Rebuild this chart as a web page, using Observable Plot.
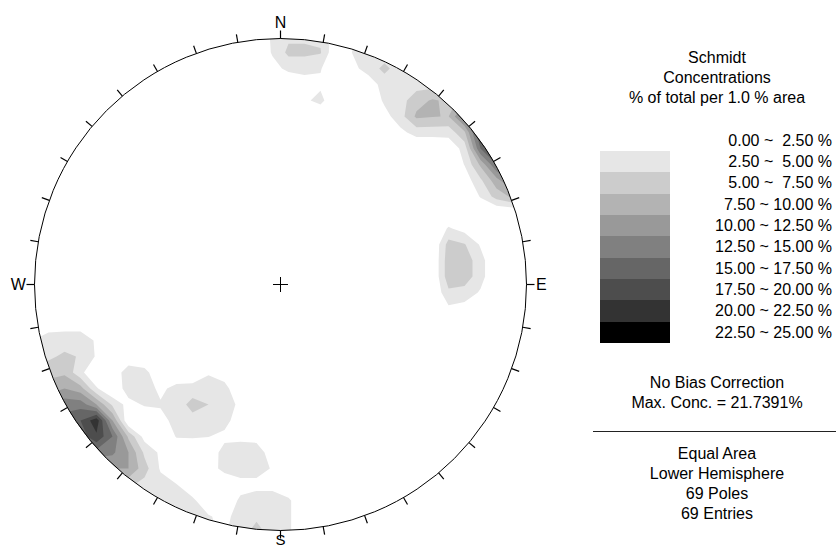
<!DOCTYPE html>
<html><head><meta charset="utf-8">
<script src="https://cdn.jsdelivr.net/npm/d3@7"></script>
<script src="https://cdn.jsdelivr.net/npm/@observablehq/plot@0.6"></script>
<style>
body{margin:0;background:#fff;font-family:"Liberation Sans",Arial,sans-serif;}
#wrap{position:relative;width:836px;height:548px;overflow:hidden;background:#fff;}
.t{position:absolute;font-size:16px;line-height:20px;white-space:pre;color:#000;}
.c{left:598px;width:238px;text-align:center;}
.r{right:4px;text-align:right;}
.sw{position:absolute;left:600px;width:70px;}
</style></head><body><div id="wrap"></div>
<script>
// Concentration grid (% of total per 1% area), 32 x 32 samples, rows top->bottom, cols left->right
const conc = [
[0,0,0,0,0,0,0,0,0,0,0,0,0,0,0,3,4.5,4.5,4.5,1,2,3,3,3,0,0,0,0,0,0,0,0],
[0,0,0,0,0,0,0,0,0,0,0,0,0,0,0,2.8,5.6,5.6,5.2,0,2.6,4,4,4,3,0,0,0,0,0,0,0],
[0,0,0,0,0,0,0,0,0,0,0,0,0,0,0,1.5,3.2,3.2,2.7,0,1.5,4,5.5,4,4,4,0,0,0,0,0,0],
[0,0,0,0,0,0,0,0,0,0,0,0,0,0,0,0,0,1.5,2,0,0,0.5,4,4,4,4,5,0,0,0,0,0],
[0,0,0,0,0,0,0,0,0,0,0,0,0,0,0,0,0,2,3.3,0,0,0,3,4,6.5,7.8,7,8,0,0,0,0],
[0,0,0,0,0,0,0,0,0,0,0,0,0,0,0,0,0,0,0,0,0,0,1.5,4,8,7.6,7.4,14,14,0,0,0],
[0,0,0,0,0,0,0,0,0,0,0,0,0,0,0,0,0,0,0,0,0,0,0,1.8,3.5,3.5,3.5,7,18,18,0,0],
[0,0,0,0,0,0,0,0,0,0,0,0,0,0,0,0,0,0,0,0,0,0,0,0,0,0,0.5,3.5,15,20,20,0],
[0,0,0,0,0,0,0,0,0,0,0,0,0,0,0,0,0,0,0,0,0,0,0,0,0,0,0,2.6,8,15,15,0],
[0,0,0,0,0,0,0,0,0,0,0,0,0,0,0,0,0,0,0,0,0,0,0,0,0,0,0,1,4.5,9,13,13],
[0,0,0,0,0,0,0,0,0,0,0,0,0,0,0,0,0,0,0,0,0,0,0,0,0,0,0,0,2.7,6,8,8],
[0,0,0,0,0,0,0,0,0,0,0,0,0,0,0,0,0,0,0,0,0,0,0,0,0,0,0,0,0,0,0,0],
[0,0,0,0,0,0,0,0,0,0,0,0,0,0,0,0,0,0,0,0,0,0,0,0,0,0,2.8,1.5,0,0,0,0],
[0,0,0,0,0,0,0,0,0,0,0,0,0,0,0,0,0,0,0,0,0,0,0,0,0,0,6,5.2,2.2,0,0,0],
[0,0,0,0,0,0,0,0,0,0,0,0,0,0,0,0,0,0,0,0,0,0,0,0,0,0,6.5,6.5,3.5,0,0,0],
[0,0,0,0,0,0,0,0,0,0,0,0,0,0,0,0,0,0,0,0,0,0,0,0,0,0,6.5,6.5,3.5,0,0,0],
[0,0,0,0,0,0,0,0,0,0,0,0,0,0,0,0,0,0,0,0,0,0,0,0,0,0,4.5,4,2.2,0,0,0],
[0,0,0,0,0,0,0,0,0,0,0,0,0,0,0,0,0,0,0,0,0,0,0,0,0,0,2,1.5,0,0,0,0],
[1,1.5,1.5,1.5,0,0,0,0,0,0,0,0,0,0,0,0,0,0,0,0,0,0,0,0,0,0,0,0,0,0,0,0],
[2.5,3.5,3.8,3.8,2.2,0,0,0,0,0,0,0,0,0,0,0,0,0,0,0,0,0,0,0,0,0,0,0,0,0,0,0],
[4,4.5,5.5,4.8,2.2,0,0,0,0,0,0,0,0,0,0,0,0,0,0,0,0,0,0,0,0,0,0,0,0,0,0,0],
[6,6.5,7,3.2,0,0,4.5,3.5,0,0,0.5,2.2,1,0,0,0,0,0,0,0,0,0,0,0,0,0,0,0,0,0,0,0],
[8,9,10,8.5,2.8,0,4,4,1.8,3.5,3.5,4,3.5,0,0,0,0,0,0,0,0,0,0,0,0,0,0,0,0,0,0,0],
[10,12,14,14,10,4.5,1.5,2.8,2.8,3.5,6,5,4,1.8,0,0,0,0,0,0,0,0,0,0,0,0,0,0,0,0,0,0],
[12,14,16,17.5,21.7,10,0,0,1.5,3.5,4,3.5,4,0,0,0,0,0,0,0,0,0,0,0,0,0,0,0,0,0,0,0],
[10,12,14,16,19.5,15,7,1.5,0,2.7,2.8,2.6,1.5,1.5,1.5,0,0,0,0,0,0,0,0,0,0,0,0,0,0,0,0,0],
[8,10,12,12,14,13,10,4.5,2,0,0,0,4,4.5,4,1,0,0,0,0,0,0,0,0,0,0,0,0,0,0,0,0],
[0,0,6,7,9,10,10,6,2.2,0,0,1,3.5,4,4,2.2,0,0,0,0,0,0,0,0,0,0,0,0,0,0,0,0],
[0,0,0,0,4,5,5.5,4.2,3.5,2.6,0,0,0,1.5,1.5,1.5,0,0,0,0,0,0,0,0,0,0,0,0,0,0,0,0],
[0,0,0,0,0,0,3.5,4,3.5,3.5,3.2,0,0.5,3,4,4,3,0,0,0,0,0,0,0,0,0,0,0,0,0,0,0],
[0,0,0,0,0,0,0,0,3,3,3,2.8,1.5,4,4.5,4,3,0,0,0,0,0,0,0,0,0,0,0,0,0,0,0],
[0,0,0,0,0,0,0,0,0,3,3,2.8,2.2,4,6,4,3,0,0,0,0,0,0,0,0,0,0,0,0,0,0,0]
];
const levels = [2.5, 5, 7.5, 10, 12.5, 15, 17.5, 20, 22.5];
const classColors = ["#e6e6e6","#cccccc","#b3b3b3","#999999","#808080","#666666","#4d4d4d","#333333","#000000"];
const classLabels = ["0.00 ~  2.50 %","2.50 ~  5.00 %","5.00 ~  7.50 %","7.50 ~ 10.00 %","10.00 ~ 12.50 %","12.50 ~ 15.00 %","15.00 ~ 17.50 %","17.50 ~ 20.00 %","20.00 ~ 22.50 %","22.50 ~ 25.00 %"];
const tickAngles = [0,10,20,30,40,50,60,70,80,90,100,110,120,130,140,150,160,170,180,190,200,210,220,230,240,250,260,270,280,290,300,310,320,330,340,350];
const compass = [{label:"N",az:0,off:1.065,size:16},{label:"E",az:90,off:1.06,size:16},{label:"S",az:180,off:1.04,size:15},{label:"W",az:270,off:1.066,size:16}];
const titleLines = ["Schmidt","Concentrations","% of total per 1.0 % area"];
const noteLines = ["No Bias Correction","Max. Conc. = 21.7391%"];
const footerLines = ["Equal Area","Lower Hemisphere","69 Poles","69 Entries"];

conc.forEach((r, i) => { if (r.length !== 32) throw new Error("row " + i + " has " + r.length); });

const R = 246, CX = 280, CY = 284, W = 560, H = 548;
const GN = 32, ext = (GN * 16 / 2) / R; // grid half-extent in net units
const rad = Math.PI / 180, TL = 8 / R, CA = 7.5 / R;

const chart = Plot.plot({
  width: W, height: H,
  marginTop: 0, marginBottom: 0, marginLeft: 0, marginRight: 0,
  x: {domain: [-1, 1], range: [CX - R, CX + R], axis: null},
  y: {domain: [-1, 1], range: [CY + R, CY - R], axis: null},
  color: {type: "threshold", domain: levels.slice(1), range: classColors},
  style: {fontFamily: "'Liberation Sans', Arial, sans-serif", fontSize: "16px", background: "white"},
  marks: [
    Plot.contour(conc.flat(), {width: GN, height: GN, x1: -ext, y1: ext, x2: ext, y2: -ext,
      fill: Plot.identity, thresholds: levels, stroke: "none"}),
    Plot.dot([{x: 0, y: 0}], {x: "x", y: "y", r: R, stroke: "#000", fill: "none", strokeWidth: 1}),
    Plot.link(tickAngles, {x1: a => Math.sin(a * rad), y1: a => Math.cos(a * rad),
      x2: a => (1 + TL) * Math.sin(a * rad), y2: a => (1 + TL) * Math.cos(a * rad), stroke: "#000", strokeWidth: 1.2}),
    Plot.link([{x1: -CA, y1: 0, x2: CA, y2: 0}, {x1: 0, y1: -CA, x2: 0, y2: CA}],
      {x1: "x1", y1: "y1", x2: "x2", y2: "y2", stroke: "#000", strokeWidth: 1}),
    Plot.text(compass, {x: d => d.off * Math.sin(d.az * rad), y: d => d.off * Math.cos(d.az * rad),
      text: "label", fontSize: d => d.size, fill: "#000", textAnchor: "middle"})
  ]
});

// clip contours to the primitive circle
const ns = "http://www.w3.org/2000/svg";
const defs = document.createElementNS(ns, "defs");
const cp = document.createElementNS(ns, "clipPath");
cp.setAttribute("id", "netclip");
const cc = document.createElementNS(ns, "circle");
cc.setAttribute("cx", CX); cc.setAttribute("cy", CY); cc.setAttribute("r", R);
cp.appendChild(cc); defs.appendChild(cp); chart.insertBefore(defs, chart.firstChild);
const cg = chart.querySelector('g[aria-label="contour"]');
if (cg) cg.setAttribute("clip-path", "url(#netclip)");

const wrap = document.getElementById("wrap");
chart.style.position = "absolute"; chart.style.left = "0px"; chart.style.top = "0px";
wrap.appendChild(chart);

function addText(str, cls, cy) {
  const d = document.createElement("div");
  d.className = "t " + cls; d.textContent = str; d.style.top = (cy - 10) + "px";
  wrap.appendChild(d);
}
titleLines.forEach((s, i) => addText(s, "c", 58 + 20 * i));
const step = 192 / 9;
classLabels.forEach((s, i) => addText(s, "r", 140.5 + step * i));
classColors.forEach((col, i) => {
  const d = document.createElement("div");
  d.className = "sw";
  d.style.top = (151 + step * i) + "px";
  d.style.height = (step + 0.3) + "px";
  d.style.background = col;
  wrap.appendChild(d);
});
noteLines.forEach((s, i) => addText(s, "c", 383 + 20 * i));
const hr = document.createElement("div");
hr.style.cssText = "position:absolute;left:593px;width:243px;top:431px;height:0;border-top:1px solid #222;";
wrap.appendChild(hr);
footerLines.forEach((s, i) => addText(s, "c", 454 + 20 * i));
</script></body></html>
